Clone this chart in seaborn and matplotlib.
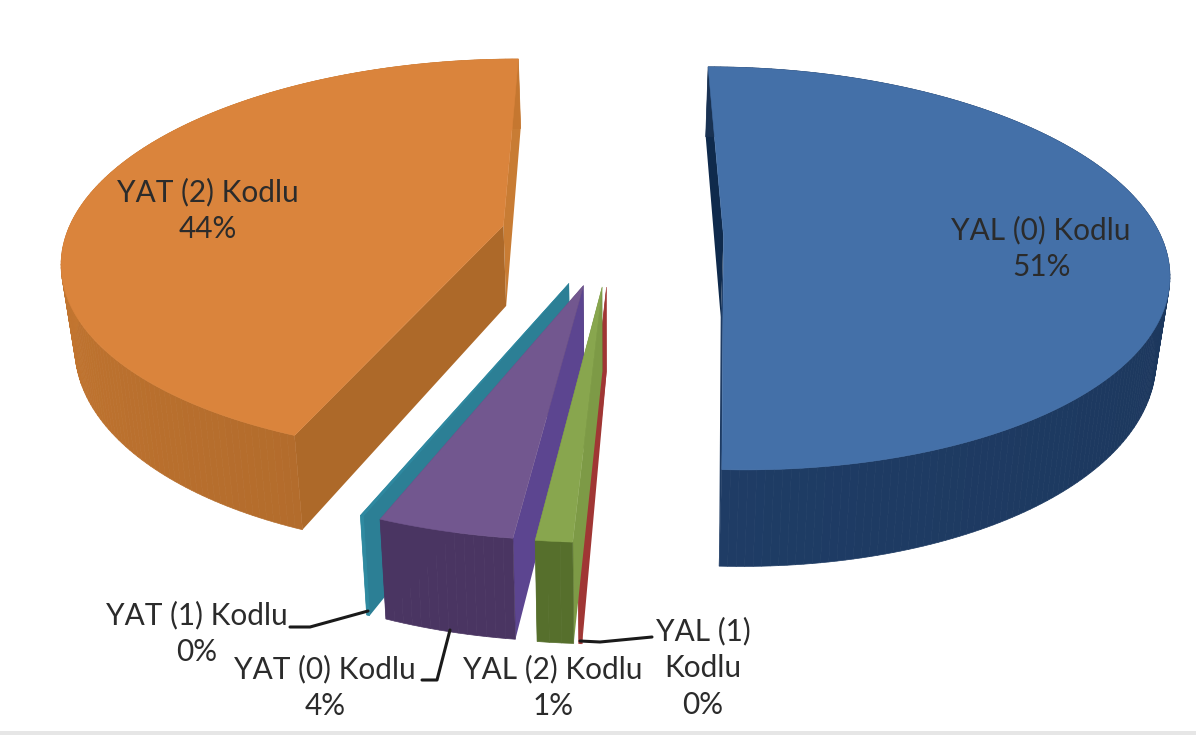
import numpy as np
import matplotlib
matplotlib.use("Agg")
import matplotlib.pyplot as plt
from matplotlib.colors import to_rgb
from matplotlib.patches import Polygon
import seaborn as sns

# ---- data (clockwise from 12 o'clock) ----
names = ["YAL (0) Kodlu", "YAL (1)\nKodlu", "YAL (2) Kodlu",
         "YAT (0) Kodlu", "YAT (1) Kodlu", "YAT (2) Kodlu"]
values = [50.7, 0.1, 1.1, 4.1, 0.1, 43.9]
top_colors = ["#4470A8", "#A33C39", "#88A64E", "#72578F", "#2E88A0", "#DA843C"]
wall_colors = ["#1E3B63", "#A03634", "#566F2C", "#4A3562", "#2F8AA0", "#B36C2C"]
start_face = ["#0F2A4C", "#A03634", "#7D9A46", "#5C4590", "#2C7F95", "#AD6929"]
end_face = ["#1E3B63", "#A03634", "#566F2C", "#4A3562", "#2F8AA0", "#C87C34"]
label_xy = [(1041, 248), (703, 668), (553, 687), (325, 687), (197, 633), (208, 210)]
leaders = [None, [(580, 641), (600, 642), (652, 637)], None,
           [(422, 680), (437, 680), (450, 630)],
           [(290, 627), (310, 627), (368, 611)], None]

# ---- view geometry ----
CX, CY, A, B, K = 612, 235, 437, 196, 0.16
EXPLODE, DEPTH, SHRINK = 0.255, 81, 0.975

sns.set_theme(style="white")
plt.rcParams["font.family"] = ["Lato", "DejaVu Sans"]
palette = sns.color_palette(top_colors)

fig = plt.figure(figsize=(11.96, 7.35), dpi=100)
ax = fig.add_axes([0, 0, 1, 1])
ax.set_xlim(0, 1196)
ax.set_ylim(735, 0)
ax.axis("off")
ax.axhspan(731, 735, color="#E6E6E6", lw=0)


def project(u, v, lower=False):
    w = 1 + K * v
    x = A * u / w
    y = -B * v / w
    if lower:
        return CX + SHRINK * x, CY + y + DEPTH / w
    return CX + x, CY + y


def shade(col, f):
    return tuple(np.clip(np.array(to_rgb(col)) * f, 0, 1))


fracs = np.array(values) / sum(values)
edges = np.concatenate([[0], np.cumsum(fracs)]) * 2 * np.pi


def wall_factor(i, s):
    if i == 0:   # blue darkens towards the right
        return 0.84 + 0.18 * s / edges[1]
    if i == 5:   # orange lightens towards the left
        return 1.0 + 0.10 * np.clip((s - edges[5]) / np.radians(70), 0, 1)
    return 1.0


def draw_slice(i):
    t0, t1 = edges[i], edges[i + 1]
    mid = (t0 + t1) / 2
    ou, ov = EXPLODE * np.sin(mid), EXPLODE * np.cos(mid)
    ts = np.linspace(t0, t1, max(3, int((t1 - t0) * 60)))
    us, vs = ou + np.sin(ts), ov + np.cos(ts)
    apex_t = project(ou, ov)
    apex_b = project(ou, ov, True)
    # radial faces: the end face first, so the start face stays in front
    for j, cols in ((-1, end_face), (0, start_face)):
        ax.add_patch(Polygon([apex_t, project(us[j], vs[j]),
                              project(us[j], vs[j], True), apex_b],
                             closed=True, fc=cols[i], ec="none", lw=0))
    # arc wall, softly shaded
    for k in range(len(ts) - 1):
        c = shade(wall_colors[i], wall_factor(i, 0.5 * (ts[k] + ts[k + 1])))
        ax.add_patch(Polygon([project(us[k], vs[k]), project(us[k + 1], vs[k + 1]),
                              project(us[k + 1], vs[k + 1], True), project(us[k], vs[k], True)],
                             closed=True, fc=c, ec=c, lw=0.5))
    # top face
    pts = [apex_t] + [project(u, v) for u, v in zip(us, vs)]
    ax.add_patch(Polygon(pts, closed=True, fc=palette[i], ec=palette[i], lw=0.4))


for i in [5, 0, 4, 3, 1, 2]:
    draw_slice(i)

for name, val, (lx, ly) in zip(names, values, label_xy):
    ax.text(lx, ly, f"{name}\n{round(val)}%", ha="center", va="center",
            fontsize=21.4, color="#2B2B2B", linespacing=1.37)

for pts in leaders:
    if pts:
        xs, ys = zip(*pts)
        ax.plot(xs, ys, color="#1A1A1A", lw=2.2)

fig.savefig("out.png", dpi=100, facecolor="white")
